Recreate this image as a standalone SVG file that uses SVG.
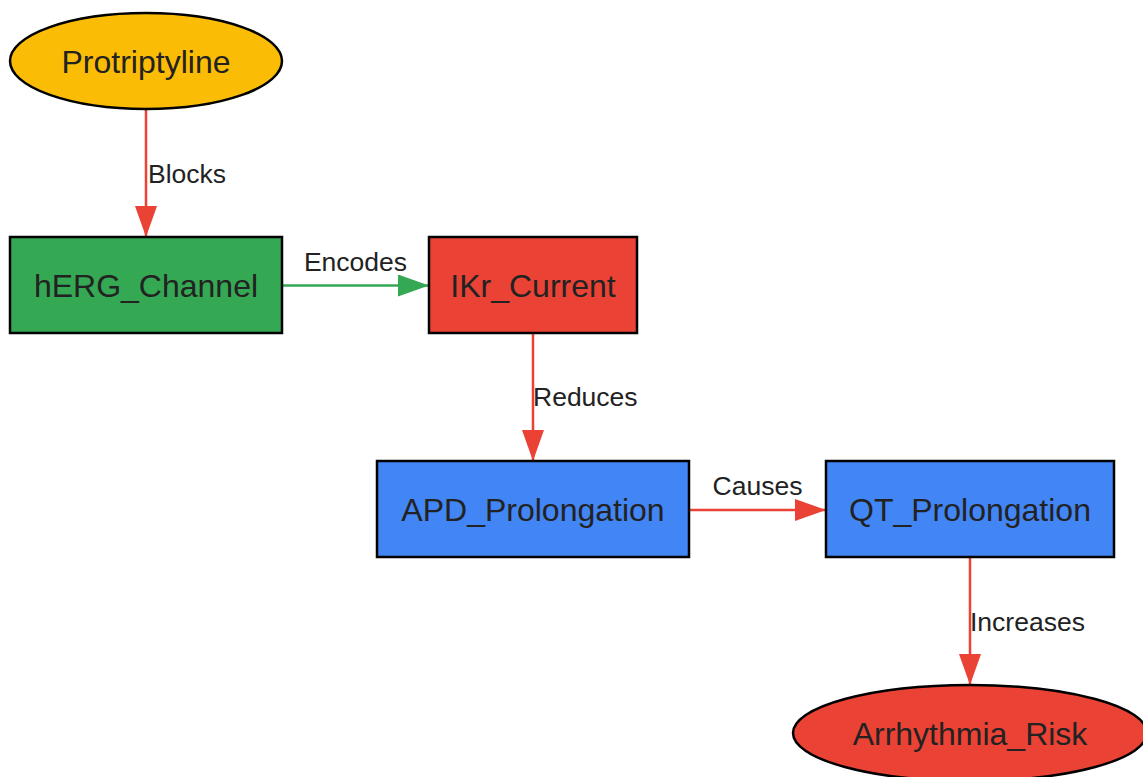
<svg xmlns="http://www.w3.org/2000/svg" width="1143" height="777" viewBox="0 0 1143 777">
<style>
.node{stroke:#000;stroke-width:2.5}
.nt{font-family:"Liberation Sans",Arial,sans-serif;font-size:32px;fill:#222;text-anchor:middle}
.et{font-family:"Liberation Sans",Arial,sans-serif;font-size:26.5px;fill:#222}
.er{stroke:#EA4335;stroke-width:2.5;fill:none}
.eg{stroke:#34A853;stroke-width:2.5;fill:none}
</style>
<defs>
<marker id="ar" viewBox="0 0 31 22" refX="31" refY="11" markerWidth="31" markerHeight="22" markerUnits="userSpaceOnUse" orient="auto"><path d="M0,0L31,11L0,22Z" fill="#EA4335"/></marker>
<marker id="ag" viewBox="0 0 31 22" refX="31" refY="11" markerWidth="31" markerHeight="22" markerUnits="userSpaceOnUse" orient="auto"><path d="M0,0L31,11L0,22Z" fill="#34A853"/></marker>
</defs>
<rect width="1143" height="777" fill="#fff"/>
<g id="connectors">
<line class="er" x1="146" y1="109" x2="146" y2="237" marker-end="url(#ar)"/>
<text class="et" x="148" y="183">Blocks</text>
<line class="eg" x1="282" y1="285.5" x2="429" y2="285.5" marker-end="url(#ag)"/>
<text class="et" x="355.5" y="271" text-anchor="middle">Encodes</text>
<line class="er" x1="533" y1="333" x2="533" y2="461" marker-end="url(#ar)"/>
<text class="et" x="533" y="406">Reduces</text>
<line class="er" x1="689" y1="510" x2="826" y2="510" marker-end="url(#ar)"/>
<text class="et" x="757.5" y="495" text-anchor="middle">Causes</text>
<line class="er" x1="970" y1="557" x2="970" y2="685" marker-end="url(#ar)"/>
<text class="et" x="970" y="631">Increases</text>
</g>
<g id="Protriptyline"><ellipse class="node" cx="146" cy="61" rx="136" ry="48" fill="#FBBC05"/><text class="nt" x="146" y="73">Protriptyline</text></g>
<g id="hERG_Channel"><rect class="node" x="10" y="237" width="272" height="96" fill="#34A853"/><text class="nt" x="146" y="297">hERG_Channel</text></g>
<g id="IKr_Current"><rect class="node" x="429" y="237" width="208" height="96" fill="#EA4335"/><text class="nt" x="533" y="297">IKr_Current</text></g>
<g id="APD_Prolongation"><rect class="node" x="377" y="461" width="312" height="96" fill="#4285F4"/><text class="nt" x="533" y="521">APD_Prolongation</text></g>
<g id="QT_Prolongation"><rect class="node" x="826" y="461" width="288" height="96" fill="#4285F4"/><text class="nt" x="970" y="521">QT_Prolongation</text></g>
<g id="Arrhythmia_Risk"><ellipse class="node" cx="970" cy="733" rx="177" ry="48" fill="#EA4335"/><text class="nt" x="970" y="745">Arrhythmia_Risk</text></g>
</svg>
